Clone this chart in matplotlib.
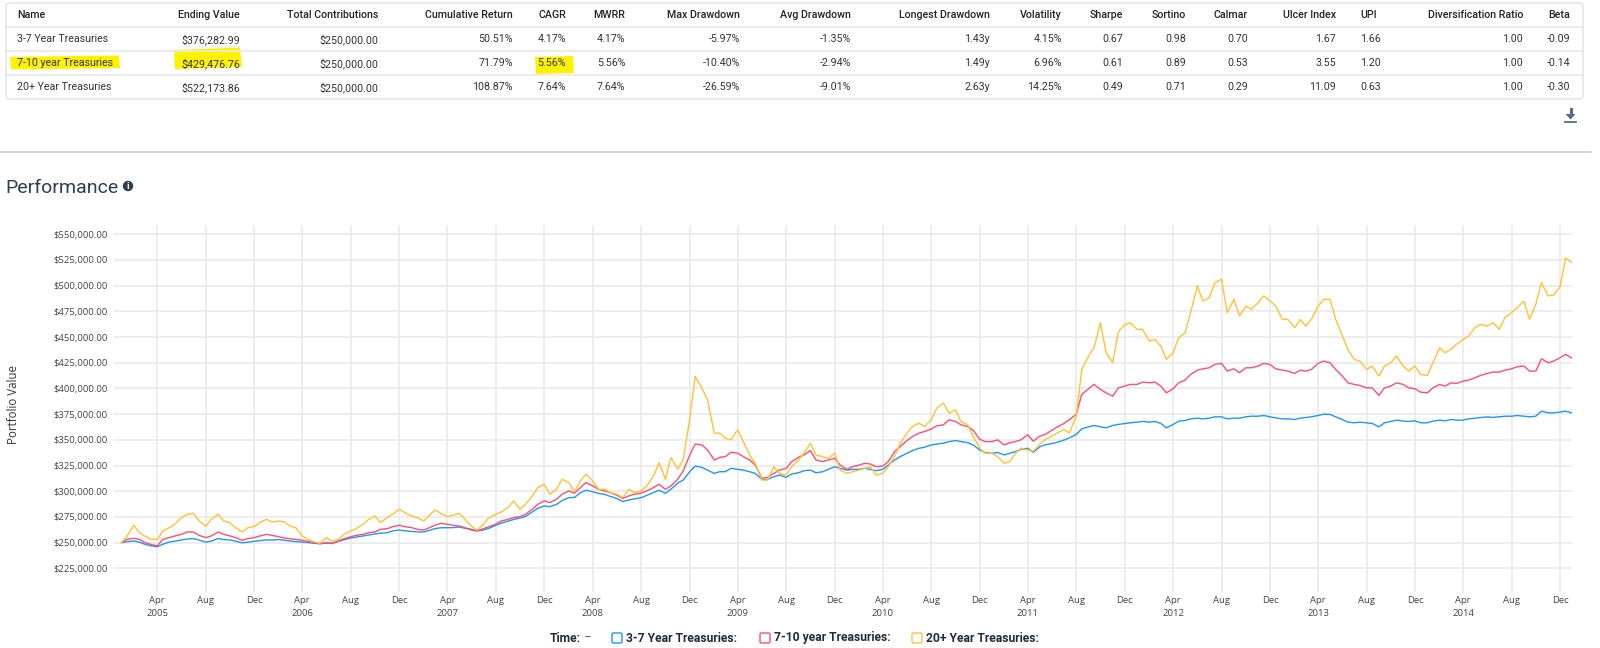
import numpy as np
import pandas as pd
import matplotlib
matplotlib.use('Agg')
import matplotlib.pyplot as plt
import matplotlib.dates as mdates
from matplotlib.patches import FancyBboxPatch, Polygon, Circle
from matplotlib.ticker import FuncFormatter

# ---- summary table ----
columns = ['Name', 'Ending Value', 'Total Contributions', 'Cumulative Return', 'CAGR', 'MWRR',
           'Max Drawdown', 'Avg Drawdown', 'Longest Drawdown', 'Volatility', 'Sharpe', 'Sortino',
           'Calmar', 'Ulcer Index', 'UPI', 'Diversification Ratio', 'Beta']
names = ['3-7 Year Treasuries', '7-10 year Treasuries', '20+ Year Treasuries']
ending_value = ['$376,282.99', '$429,476.76', '$522,173.86']
contributions = ['$250,000.00', '$250,000.00', '$250,000.00']
cum_return = ['50.51%', '71.79%', '108.87%']
cagr = ['4.17%', '5.56%', '7.64%']
mwrr = ['4.17%', '5.56%', '7.64%']
max_dd = ['-5.97%', '-10.40%', '-26.59%']
avg_dd = ['-1.35%', '-2.94%', '-9.01%']
longest_dd = ['1.43y', '1.49y', '2.63y']
volatility = ['4.15%', '6.96%', '14.25%']
sharpe = ['0.67', '0.61', '0.49']
sortino = ['0.98', '0.89', '0.71']
calmar = ['0.70', '0.53', '0.29']
ulcer = ['1.67', '3.55', '11.09']
upi = ['1.66', '1.20', '0.63']
div_ratio = ['1.00', '1.00', '1.00']
beta = ['-0.09', '-0.14', '-0.30']
table_data = [names, ending_value, contributions, cum_return, cagr, mwrr, max_dd, avg_dd,
              longest_dd, volatility, sharpe, sortino, calmar, ulcer, upi, div_ratio, beta]

# ---- performance series (thousands of $, 1st and 15th of each month, last = 2014-12-31) ----
dates = list(pd.date_range('2005-01-01', '2014-12-15', freq='SMS')) + [pd.Timestamp('2014-12-31')]

t37 = [250.0, 251.0, 251.6, 250.5, 248.4, 247.0, 246.0, 248.5, 250.6, 251.5, 252.6, 253.5, 254.0, 252.5, 250.5, 251.5, 254.0, 253.0, 252.6, 251.5, 249.8, 250.5, 251.3, 252.0,
       252.6, 252.6, 253.0, 252.3, 251.6, 251.0, 250.6, 250.0, 249.4, 249.0, 249.4, 249.6, 251.2, 252.8, 254.5, 255.5, 256.5, 257.5, 258.5, 259.2, 259.7, 261.5, 262.3, 261.5,
       261.0, 260.5, 260.4, 262.0, 263.6, 264.5, 264.6, 264.6, 265.2, 264.0, 263.0, 261.5, 262.3, 264.0, 266.9, 269.0, 271.0, 272.5, 274.0, 275.5, 279.9, 283.5, 285.7, 285.0,
       287.3, 291.0, 293.8, 294.0, 298.5, 301.0, 299.5, 298.0, 297.0, 295.0, 292.9, 290.0, 291.5, 292.5, 293.8, 296.0, 298.7, 301.0, 298.0, 302.0, 308.0, 311.0, 319.0, 324.5,
       323.2, 320.6, 317.4, 319.0, 319.0, 322.3, 321.3, 320.6, 319.0, 317.4, 311.5, 311.5, 314.1, 315.8, 313.5, 316.8, 318.0, 320.0, 320.6, 318.0, 319.0, 321.3, 323.9, 322.3,
       320.6, 321.3, 321.3, 322.3, 321.3, 320.0, 321.3, 325.5, 330.4, 333.7, 337.0, 339.5, 341.8, 342.8, 345.0, 346.0, 346.7, 348.3, 349.3, 348.3, 347.3, 345.0, 340.2, 337.6,
       337.0, 337.6, 335.3, 337.0, 338.6, 340.8, 341.8, 338.0, 343.2, 345.2, 346.4, 347.7, 349.7, 352.0, 355.2, 360.7, 362.7, 364.0, 362.7, 361.7, 364.0, 365.0, 365.9, 366.6,
       367.2, 367.9, 367.2, 367.9, 366.0, 361.7, 364.9, 368.2, 368.8, 370.4, 371.1, 370.4, 371.1, 372.4, 372.4, 370.4, 371.1, 371.1, 372.4, 373.0, 373.0, 373.7, 372.4, 371.4,
       370.4, 370.4, 369.8, 371.1, 371.8, 372.4, 373.7, 375.0, 374.7, 372.4, 369.8, 367.2, 366.6, 367.2, 366.6, 366.0, 362.7, 366.6, 367.9, 369.2, 368.2, 367.9, 368.5, 366.6,
       366.6, 368.2, 369.2, 368.5, 369.8, 369.2, 369.2, 370.4, 371.1, 371.8, 372.4, 371.8, 372.4, 373.0, 373.0, 373.7, 373.0, 372.4, 373.0, 377.9, 376.3, 376.3, 377.0, 377.9,
       376.28]

t710 = [250.0, 253.2, 254.2, 253.2, 250.0, 248.4, 246.8, 253.2, 254.9, 256.5, 258.1, 260.4, 260.4, 257.1, 254.9, 256.5, 260.4, 258.1, 256.5, 254.9, 252.3, 253.9, 254.9, 256.5,
        258.1, 257.1, 255.8, 254.5, 253.9, 253.2, 252.3, 251.3, 250.0, 249.0, 250.0, 249.0, 251.6, 253.9, 255.8, 257.1, 258.1, 259.7, 260.4, 263.0, 263.6, 265.6, 266.9, 265.6,
        264.6, 263.0, 262.3, 264.6, 266.9, 268.8, 267.9, 266.9, 266.2, 264.6, 262.3, 261.4, 263.6, 265.6, 267.9, 271.1, 272.7, 274.4, 275.3, 277.6, 282.5, 287.3, 290.6, 289.0,
        292.2, 297.1, 300.3, 298.1, 303.6, 308.4, 305.2, 301.9, 300.3, 298.7, 296.1, 292.9, 295.5, 297.1, 298.1, 300.3, 303.6, 306.8, 301.9, 305.2, 311.7, 319.8, 335.0, 346.0,
        345.0, 340.2, 330.4, 333.0, 333.7, 338.0, 337.0, 333.7, 330.4, 325.5, 312.5, 313.5, 317.4, 320.6, 322.3, 328.8, 333.0, 335.3, 339.5, 330.4, 328.8, 330.4, 332.0, 325.5,
        321.3, 323.9, 325.5, 327.2, 326.5, 323.9, 324.5, 328.8, 338.6, 343.4, 349.3, 353.2, 356.5, 358.1, 360.4, 363.7, 364.6, 369.5, 367.9, 364.6, 363.0, 359.1, 350.7, 348.3,
        348.3, 350.0, 345.0, 347.3, 348.3, 350.0, 354.9, 348.7, 353.6, 355.2, 359.4, 362.7, 365.9, 369.8, 374.7, 394.2, 399.7, 403.9, 399.0, 395.8, 392.5, 400.6, 402.3, 403.9,
        403.9, 406.2, 405.5, 406.2, 402.3, 395.8, 399.7, 405.5, 408.1, 413.6, 417.8, 419.1, 420.1, 423.4, 424.4, 416.9, 419.1, 415.3, 420.1, 420.1, 421.8, 424.4, 423.4, 419.1,
        417.8, 416.9, 414.6, 417.8, 416.9, 418.5, 424.4, 426.6, 425.0, 418.5, 412.0, 405.5, 403.9, 402.9, 400.6, 400.6, 393.2, 400.6, 402.3, 405.5, 403.9, 400.6, 399.7, 396.4,
        395.8, 400.6, 403.9, 402.3, 405.5, 404.9, 407.1, 408.1, 410.4, 412.7, 414.6, 415.9, 415.9, 417.8, 419.1, 421.1, 421.8, 416.9, 416.9, 428.9, 425.0, 426.6, 429.9, 433.1,
        429.48]

t20 = [250.0, 256.5, 266.9, 259.7, 256.5, 253.2, 253.2, 261.4, 264.6, 267.9, 274.4, 277.6, 278.6, 271.1, 266.2, 272.7, 277.6, 271.1, 269.5, 264.6, 260.4, 264.6, 265.6, 269.5,
       272.7, 270.1, 271.1, 270.1, 266.2, 264.6, 256.5, 253.2, 250.6, 249.4, 254.9, 251.6, 253.2, 258.1, 261.4, 263.6, 267.9, 272.7, 276.0, 269.5, 274.4, 277.6, 282.5, 279.2,
       276.0, 274.4, 271.1, 276.6, 281.8, 278.6, 275.3, 276.6, 278.6, 272.7, 266.2, 262.3, 267.9, 274.4, 277.6, 279.9, 284.1, 290.6, 282.5, 287.3, 295.5, 303.6, 306.8, 297.1,
       301.9, 311.7, 308.4, 299.4, 310.1, 316.6, 310.1, 301.9, 301.9, 298.7, 297.1, 293.8, 301.9, 298.7, 300.3, 305.2, 314.9, 327.9, 311.7, 332.8, 321.4, 331.2, 370.0, 411.9,
       400.0, 389.0, 356.5, 356.5, 351.6, 350.0, 359.8, 348.3, 335.3, 327.2, 310.9, 310.9, 323.9, 317.4, 315.8, 323.9, 330.4, 337.0, 346.7, 335.3, 333.7, 332.0, 337.0, 320.6,
       317.4, 319.0, 320.6, 322.3, 323.9, 315.8, 317.4, 323.9, 333.7, 346.7, 356.5, 363.0, 366.3, 363.0, 369.5, 380.9, 385.8, 376.0, 379.3, 367.9, 364.6, 353.2, 341.8, 337.0,
       337.0, 333.7, 327.2, 328.8, 337.0, 341.8, 340.0, 339.0, 345.5, 350.3, 353.6, 356.8, 360.0, 356.8, 373.0, 418.5, 431.5, 440.0, 464.0, 435.0, 425.0, 455.0, 462.0, 464.0,
       457.5, 457.5, 446.1, 447.7, 441.2, 428.2, 434.7, 449.4, 454.0, 473.7, 499.7, 485.0, 488.3, 502.9, 506.2, 473.7, 486.7, 470.5, 480.2, 477.0, 483.4, 490.0, 485.0, 480.2,
       467.2, 467.2, 459.1, 467.2, 460.7, 467.2, 480.2, 486.7, 486.7, 467.2, 451.0, 438.0, 428.2, 426.6, 418.5, 421.8, 412.0, 421.8, 425.0, 431.5, 421.8, 416.9, 421.8, 413.6,
       412.7, 425.0, 439.6, 434.7, 438.0, 442.9, 447.7, 451.0, 459.1, 462.3, 460.7, 464.0, 457.5, 468.8, 473.7, 478.6, 485.0, 467.2, 482.0, 503.0, 490.0, 491.0, 499.0, 527.0,
       522.17]

series_names = ['3-7 Year Treasuries', '7-10 year Treasuries', '20+ Year Treasuries']
series_colors = ['#2196f3', '#ff4f6f', '#ffc235']

fig = plt.figure(figsize=(16, 6.48), dpi=100)

# full-figure overlay in pixel units for the page furniture
bg = fig.add_axes([0, 0, 1, 1])
bg.set_xlim(0, 1600)
bg.set_ylim(648, 0)
bg.axis('off')

# table frame and row rules
bg.add_patch(FancyBboxPatch((6, 3), 1577, 96, boxstyle='round,pad=0,rounding_size=4',
                            fc='white', ec='#dee2e6', lw=1))
for yy in [27.3, 51.3, 75.3]:
    bg.plot([7, 1582], [yy, yy], color='#e6e9ec', lw=1.2)

# yellow marker highlights
hl = '#fff200'
bg.add_patch(Polygon([(10, 57), (119, 55.5), (120, 68), (11, 69.5)], closed=True, fc=hl, ec='none'))
bg.add_patch(Polygon([(174, 50), (240, 47.5), (242, 67), (175, 69)], closed=True, fc=hl, ec='none'))
bg.add_patch(Polygon([(535, 57), (573, 56), (574, 73), (536, 74)], closed=True, fc=hl, ec='none'))

col_x = [17, 240, 378.6, 512.8, 566, 625.5, 740, 851, 990, 1062, 1123, 1186, 1248, 1336, 1360, 1523, 1570]
col_ha = ['left'] + ['right'] * 13 + ['left', 'right', 'right']
row_y = [39.3, 63.3, 87.3]
for c in range(len(columns)):
    bg.text(col_x[c], 15.5, columns[c], ha=col_ha[c], va='center', fontsize=7.7,
            family='Roboto', fontweight='medium', color='#212529')
    for r in range(3):
        bg.text(col_x[c], row_y[r], table_data[c][r], ha=col_ha[c], va='center', fontsize=7.7,
                family='Roboto', color='#333333')

# download icon
icon_c = '#5f6b7a'
bg.plot([1570.5, 1570.5], [109, 115], color=icon_c, lw=2.2)
bg.add_patch(Polygon([(1565.5, 114), (1575.5, 114), (1570.5, 119.5)], closed=True, fc=icon_c, ec='none'))
bg.plot([1565, 1576], [122, 122], color=icon_c, lw=1.3)

# separator and section title
bg.plot([0, 1591], [151.7, 151.7], color='#cfcfcf', lw=1.2)
bg.text(5, 193, 'Performance', ha='left', va='baseline', fontsize=14, family='Roboto', color='#2f3e4e')
bg.add_patch(Circle((128, 186), 5.2, fc='#2f3e4e', ec='none'))
bg.text(128, 186.5, 'i', ha='center', va='center', fontsize=5.5, family='DejaVu Sans',
        fontweight='bold', color='white')

# ---- chart ----
ax = fig.add_axes([114 / 1600, 1 - 592 / 648, (1572 - 114) / 1600, (592 - 225) / 648])
ax.set_facecolor('none')
for s in ax.spines.values():
    s.set_visible(False)

for vals, col in zip([t37, t710, t20], series_colors):
    ax.plot(dates, np.array(vals) * 1000, color=col, lw=1.0)

ax.set_ylim(202000, 559000)
ax.set_yticks(np.arange(225000, 550001, 25000))
ax.yaxis.set_major_formatter(FuncFormatter(lambda v, p: '${:,.2f}'.format(v)))
ax.set_xlim(pd.Timestamp('2004-12-13'), pd.Timestamp('2014-12-31'))
ax.xaxis.set_major_locator(mdates.MonthLocator(bymonth=[4, 8, 12]))


def month_label(v, p):
    d = mdates.num2date(v)
    if d.month == 4:
        return d.strftime('%b') + '\n' + str(d.year)
    return d.strftime('%b')


ax.xaxis.set_major_formatter(FuncFormatter(month_label))
ax.grid(True, color='#e8e8e8', lw=1.1)
ax.set_axisbelow(True)
ax.tick_params(axis='both', length=0, labelsize=6.8, labelcolor='#444444')
ax.tick_params(axis='y', pad=4.3)
ax.tick_params(axis='x', pad=3)
for lab in ax.get_yticklabels() + ax.get_xticklabels():
    lab.set_family('Open Sans')
for lab in ax.get_xticklabels():
    lab.set_linespacing(1.5)

bg.text(14, 405, 'Portfolio Value', rotation=90, ha='center', va='center', fontsize=8.3,
        family='Open Sans', color='#333333')

# legend row
leg_c = '#1f2d3d'
bg.text(550, 638, 'Time:', ha='left', va='center', fontsize=8.7, family='Roboto', fontweight='bold', color=leg_c)
bg.text(585, 637, '--', ha='left', va='center', fontsize=8.5, family='Roboto', color='#555555')
leg_x = [612, 760, 912]
for lx, name, col in zip(leg_x, series_names, series_colors):
    bg.add_patch(FancyBboxPatch((lx, 633), 10, 10, boxstyle='round,pad=0,rounding_size=1.5',
                                fc='white', ec=col, lw=1))
    bg.text(lx + 14, 638, name + ':', ha='left', va='center', fontsize=8.7, family='Roboto',
            fontweight='bold', color=leg_c)

fig.savefig('out.png', dpi=100)
